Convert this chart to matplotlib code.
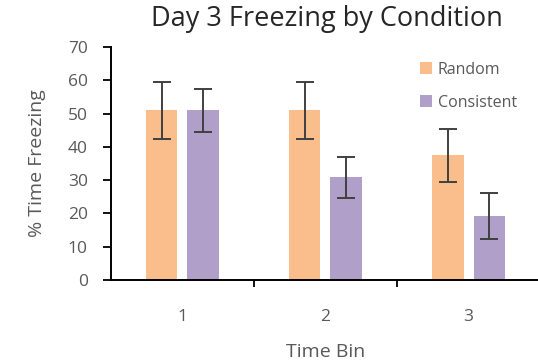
import matplotlib
matplotlib.use("Agg")
import matplotlib.pyplot as plt
import numpy as np
from matplotlib.patches import Patch

categories = ["1", "2", "3"]
random_vals = [51, 51, 37.5]
random_err = [8.5, 8.6, 8.0]
consistent_vals = [51, 30.8, 19.3]
consistent_err = [6.5, 6.1, 6.9]
series_names = ["Random", "Consistent"]
yticks = [0, 10, 20, 30, 40, 50, 60, 70]

orange = "#F9BE8B"
purple = "#B09FC9"
grey = "#595959"

plt.rcParams['font.family'] = ['Open Sans', 'DejaVu Sans']

fig = plt.figure(figsize=(5.38, 3.64), dpi=100)
ax = fig.add_axes([0.206, 0.2308, 0.798, 0.871 - 0.2308])

x = np.arange(len(categories))
w = 0.22
off = 0.145
ekw = dict(ecolor="#404040", elinewidth=1.4, capsize=6.5, capthick=1.4)
ax.bar(x - off, random_vals, w, color=orange, yerr=random_err, error_kw=ekw, label=series_names[0])
ax.bar(x + off, consistent_vals, w, color=purple, yerr=consistent_err, error_kw=ekw, label=series_names[1])

ax.set_xlim(-0.5, len(categories) - 0.5)
ax.set_ylim(0, 70)
ax.set_yticks(yticks)
ax.set_yticklabels([str(t) for t in yticks])
ax.set_xticks(x)
ax.set_xticklabels(categories)
ax.set_xticks(x[:-1] + 0.5, minor=True)
ax.tick_params(axis='x', which='major', length=0, pad=21, labelsize=12.5, labelcolor=grey)
ax.tick_params(axis='x', which='minor', length=5, width=1.3, direction='out', color='black')
ax.tick_params(axis='y', length=5.5, width=1.3, direction='out', labelsize=12.5, labelcolor=grey, pad=11)

for s in ['top', 'right']:
    ax.spines[s].set_visible(False)
for s in ['left', 'bottom']:
    ax.spines[s].set_linewidth(1.4)
    ax.spines[s].set_color('black')

ax.set_ylabel("% Time Freezing", fontsize=14, color=grey, labelpad=16)
ax.set_xlabel("Time Bin", fontsize=14, color=grey, labelpad=13)
fig.text(0.607, 1 - 19 / 364, "Day 3 Freezing by Condition", fontsize=19.5, color="#262626",
         ha='center', va='center')

handles = [Patch(facecolor=orange, label=series_names[0]), Patch(facecolor=purple, label=series_names[1])]
leg = ax.legend(handles=handles, loc='upper left', bbox_to_anchor=(0.687, 0.998), frameon=False,
                fontsize=11.5, labelcolor=grey, handlelength=0.75, handleheight=0.75,
                handletextpad=0.35, labelspacing=1.05)

fig.savefig("out.png", dpi=100)
